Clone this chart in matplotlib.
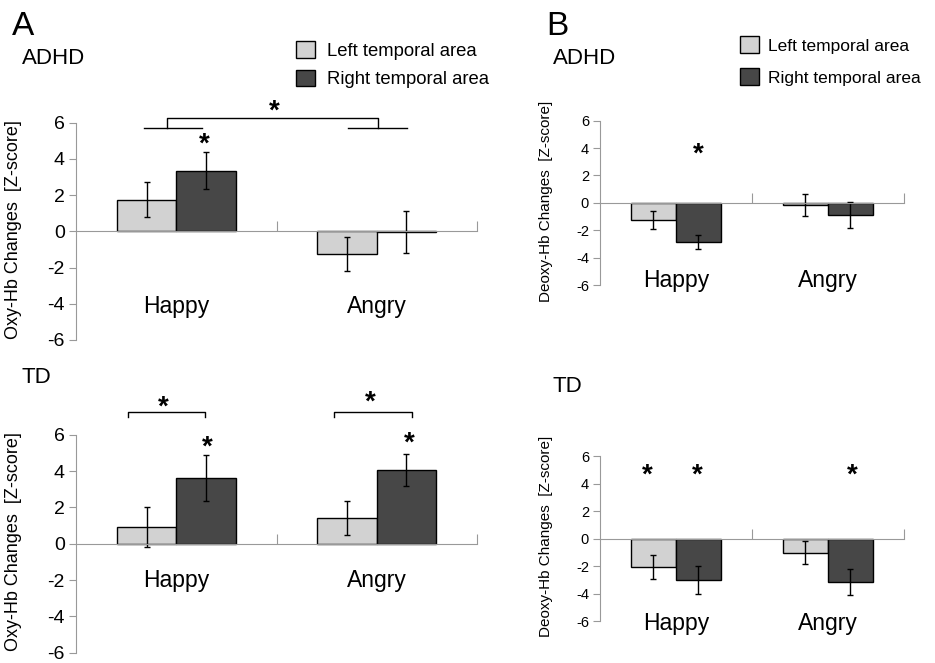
import numpy as np
import matplotlib
matplotlib.use('Agg')
import matplotlib.pyplot as plt
from matplotlib.patches import Patch

plt.rcParams['font.family'] = ['Liberation Sans', 'DejaVu Sans']

# Data (means and error half-widths)
emotions = ['Happy', 'Angry']
regions = ['Left temporal area', 'Right temporal area']
colors = ['#d2d2d2', '#474747']

oxy_adhd_left = [1.75, -1.25]
oxy_adhd_left_err = [0.98, 0.92]
oxy_adhd_right = [3.35, -0.05]
oxy_adhd_right_err = [1.03, 1.17]

oxy_td_left = [0.92, 1.41]
oxy_td_left_err = [1.1, 0.92]
oxy_td_right = [3.6, 4.06]
oxy_td_right_err = [1.27, 0.9]

deoxy_adhd_left = [-1.26, -0.19]
deoxy_adhd_left_err = [0.66, 0.8]
deoxy_adhd_right = [-2.85, -0.9]
deoxy_adhd_right_err = [0.53, 0.97]

deoxy_td_left = [-2.08, -1.02]
deoxy_td_left_err = [0.88, 0.85]
deoxy_td_right = [-3.0, -3.15]
deoxy_td_right_err = [1.03, 0.96]

yticks = [-6, -4, -2, 0, 2, 4, 6]

fig = plt.figure(figsize=(9.35, 6.63), dpi=100)

axA1 = fig.add_axes([0.0813, 0.4872, 0.4289, 0.3277])
axA2 = fig.add_axes([0.0813, 0.0155, 0.4289, 0.3288])
axB1 = fig.add_axes([0.6417, 0.5701, 0.3251, 0.2479])
axB2 = fig.add_axes([0.6417, 0.0633, 0.3251, 0.2489])

grey = '#999999'
width = 0.296
centers = np.array([0.5, 1.5])


def draw_panel(ax, left, lerr, right, rerr, ylabel, tick_fs, lab_fs, lab_x, cat_y, cap):
    ax.bar(centers - width / 2, left, width, color=colors[0], edgecolor='black', linewidth=1)
    ax.bar(centers + width / 2, right, width, color=colors[1], edgecolor='black', linewidth=1)
    ax.errorbar(centers - width / 2, left, yerr=lerr, fmt='none', ecolor='black',
                elinewidth=1, capsize=cap)
    ax.errorbar(centers + width / 2, right, yerr=rerr, fmt='none', ecolor='black',
                elinewidth=1, capsize=cap)
    ax.set_xlim(0, 2)
    ax.set_ylim(-6, 6)
    ax.set_yticks(yticks)
    ax.set_yticklabels([str(t) for t in yticks], fontsize=tick_fs)
    ax.set_xticks([1, 2])
    ax.set_xticklabels([])
    ax.tick_params(axis='x', direction='in', length=7, color=grey)
    ax.tick_params(axis='y', direction='out', length=5, color=grey, pad=3)
    for s in ['top', 'right']:
        ax.spines[s].set_visible(False)
    ax.spines['bottom'].set_position(('data', 0))
    ax.spines['bottom'].set_color(grey)
    ax.spines['left'].set_color(grey)
    ax.set_ylabel(ylabel, fontsize=lab_fs)
    ax.yaxis.set_label_coords(lab_x, 0.51)
    for c, name in zip(centers, emotions):
        ax.text(c, cat_y, name, ha='center', va='baseline', fontsize=16.5)
    ax.patch.set_alpha(0)


def star(ax, x, y):
    ax.text(x, y, '*', ha='center', va='center', fontsize=20, fontweight='bold', clip_on=False)


draw_panel(axA1, oxy_adhd_left, oxy_adhd_left_err, oxy_adhd_right, oxy_adhd_right_err,
           'Oxy-Hb Changes  [Z-score]', 14, 13, -0.135, -4.53, 2.5)
draw_panel(axA2, oxy_td_left, oxy_td_left_err, oxy_td_right, oxy_td_right_err,
           'Oxy-Hb Changes  [Z-score]', 14, 13, -0.135, -2.38, 2.5)
draw_panel(axB1, deoxy_adhd_left, deoxy_adhd_left_err, deoxy_adhd_right, deoxy_adhd_right_err,
           'Deoxy-Hb Changes  [Z-score]', 10.5, 11, -0.155, -6.17, 2)
draw_panel(axB2, deoxy_td_left, deoxy_td_left_err, deoxy_td_right, deoxy_td_right_err,
           'Deoxy-Hb Changes  [Z-score]', 10.5, 11, -0.155, -6.64, 2)

# significance marks
bk = dict(color='black', linewidth=1, clip_on=False)
axA1.plot([0.338, 0.627], [5.7, 5.7], **bk)
axA1.plot([1.358, 1.649], [5.7, 5.7], **bk)
axA1.plot([0.452, 0.452, 1.505, 1.505], [5.7, 6.27, 6.27, 5.7], **bk)
star(axA1, 0.99, 6.6)
star(axA1, 0.64, 4.8)

axA2.plot([0.259, 0.259, 0.643, 0.643], [6.95, 7.25, 7.25, 6.95], **bk)
axA2.plot([1.288, 1.288, 1.676, 1.676], [6.95, 7.25, 7.25, 6.95], **bk)
star(axA2, 0.437, 7.5)
star(axA2, 1.466, 7.75)
star(axA2, 0.655, 5.3)
star(axA2, 1.66, 5.5)

star(axB1, 0.65, 3.5)
star(axB2, 0.31, 4.6)
star(axB2, 0.64, 4.6)
star(axB2, 1.66, 4.6)

# panel letters and group titles
fig.text(0.013, 0.984, 'A', fontsize=24, va='top')
fig.text(0.023, 0.912, 'ADHD', fontsize=16, va='center')
fig.text(0.023, 0.430, 'TD', fontsize=16, va='center')
fig.text(0.584, 0.984, 'B', fontsize=24, va='top')
fig.text(0.591, 0.912, 'ADHD', fontsize=16, va='center')
fig.text(0.591, 0.417, 'TD', fontsize=16, va='center')

handles = [Patch(facecolor=colors[i], edgecolor='black', linewidth=1) for i in range(2)]
fig.legend(handles, regions, loc='upper left', bbox_to_anchor=(0.317, 0.938),
           frameon=False, fontsize=13.3, handlelength=1.0, handleheight=1.0,
           handletextpad=0.65, labelspacing=0.55, borderaxespad=0, borderpad=0)
fig.legend(handles, regions, loc='upper left', bbox_to_anchor=(0.791, 0.945),
           frameon=False, fontsize=12.5, handlelength=1.1, handleheight=1.1,
           handletextpad=0.55, labelspacing=0.85, borderaxespad=0, borderpad=0)

fig.savefig('out.png', dpi=100)
